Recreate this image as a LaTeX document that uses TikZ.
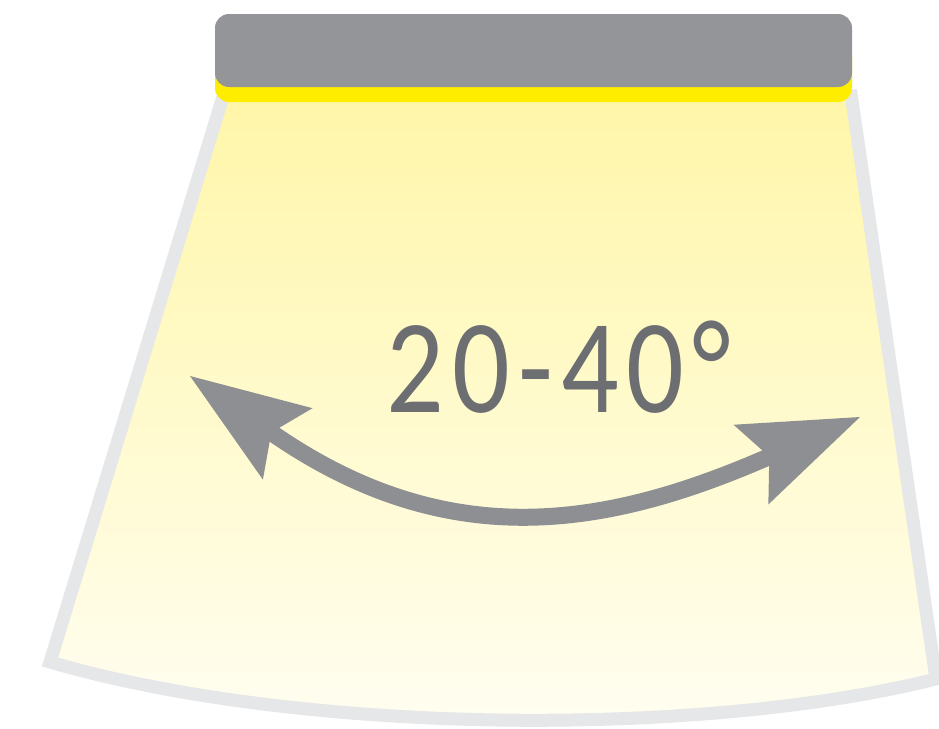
\documentclass[tikz,border=0pt]{standalone}
\usepackage{fontspec}
\setmainfont{Carlito}
\newfontfamily\anglefont[LetterSpace=7]{Carlito}
\usetikzlibrary{positioning, arrows.meta}

\definecolor{lampgray}{HTML}{939598}
\definecolor{ledyellow}{HTML}{FFED00}
\definecolor{beamtop}{HTML}{FFF6A8}
\definecolor{beambottom}{HTML}{FFFEF2}
\definecolor{edgegray}{HTML}{E6E7E8}
\definecolor{labelgray}{HTML}{6D6E71}
\definecolor{arrowgray}{HTML}{8E8F93}

\begin{document}
\begin{tikzpicture}[x=1pt, y=-1pt,
    panel/.style={rounded corners=14pt, minimum width=637pt, inner sep=0pt},
    beam edge/.style={draw=edgegray, line width=13pt},
    sweep/.style={arrowgray, line width=17pt,
      >={Stealth[length=119pt, width=87pt, inset=20pt, line width=0pt]}}]
    \useasboundingbox (0,0) rectangle (939,728);

    % Light cone
    \coordinate (top left) at (225,90);
    \coordinate (bottom left) at (50,662);
    \coordinate (bottom right) at (936,679);
    \coordinate (top right) at (850.5,90);
    \shade[top color=beamtop, bottom color=beambottom]
      (top left) -- (bottom left) .. controls (300,735) and (700,738) .. (bottom right)
      -- (top right) -- cycle;
    \draw[beam edge] (top left) -- (bottom left)
      .. controls (300,735) and (700,738) .. (bottom right) -- (top right);

    % Lamp
    \node (strip) [panel, fill=ledyellow, minimum height=60pt] at (533.5,72) {};
    \node (lamp) [panel, fill=lampgray, minimum height=73pt] at (533.5,50.5) {};

    % Angle label
    \node (angle) [text=labelgray, font=\anglefont\fontsize{134}{134}\selectfont,
      inner sep=0pt, xscale=0.85] at (559,367.5) {20-40°};

    % Double arrow
    \coordinate (left tip) at (190,376);
    \coordinate (right tip) at (860,417);
    \draw[sweep, <->] (left tip) .. controls (449,556) and (608,527) .. (right tip);
\end{tikzpicture}
\end{document}
